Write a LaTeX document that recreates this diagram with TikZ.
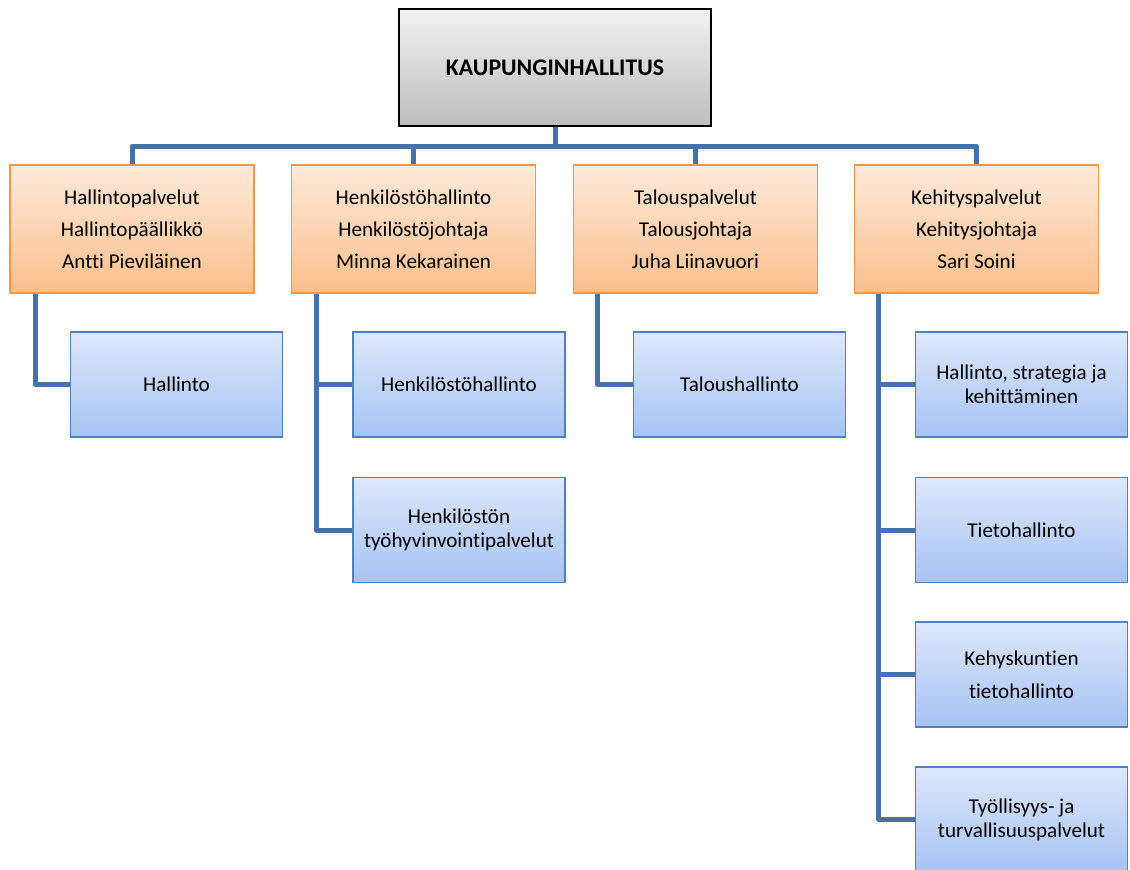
\documentclass[tikz,border=0pt]{standalone}
\usepackage{fontspec}
\setmainfont{Carlito}[Ligatures=NoCommon]
\definecolor{connc}{HTML}{4672AB}
\definecolor{blueline}{HTML}{4F81BD}
\definecolor{bluetop}{HTML}{DDE7FA}
\definecolor{bluebot}{HTML}{A6C3F3}
\definecolor{orangeline}{HTML}{F79646}
\definecolor{orangetop}{HTML}{FDEADA}
\definecolor{orangebot}{HTML}{FABF8C}
\definecolor{graytop}{HTML}{F2F2F2}
\definecolor{graybot}{HTML}{BDBDBD}
\begin{document}
\begin{tikzpicture}[x=1pt,y=-1pt,
  box/.style={rectangle, inner sep=0pt, align=center, line width=1.8pt, font=\fontsize{21.1}{32}\selectfont},
  topbox/.style={box, draw=black, top color=graytop, bottom color=graybot, minimum width=312pt, minimum height=117pt, font=\fontsize{23.8}{32}\selectfont\bfseries},
  obox/.style={box, draw=orangeline, top color=orangetop, bottom color=orangebot, minimum width=244pt, minimum height=128pt},
  bbox/.style={box, draw=blueline, top color=bluetop, bottom color=bluebot, minimum width=212pt, minimum height=105pt},
  tight/.style={font=\fontsize{21.1}{24}\selectfont},
  conn/.style={draw=connc, line width=5pt, line join=round}]
\clip (0,0) rectangle (1130,870);
\fill[white] (0,0) rectangle (1130,870);
\coordinate (bus) at (555,146);
\node[topbox] (top) at (555,67.5) {KAUPUNGINHALLITUS};
\node[obox] (o1) at (132,229) {Hallintopalvelut\\Hallintopäällikkö\\Antti Pieviläinen};
\node[obox] (o2) at (413.5,229) {Henkilöstöhallinto\\Henkilöstöjohtaja\\Minna Kekarainen};
\node[obox] (o3) at (695.5,229) {Talouspalvelut\\Talousjohtaja\\Juha Liinavuori};
\node[obox] (o4) at (976.5,229) {Kehityspalvelut\\Kehitysjohtaja\\Sari Soini};
\node[bbox] (b1) at (176.5,384.5) {Hallinto};
\node[bbox] (b2a) at (459,384.5) {Henkilöstöhallinto};
\node[bbox, tight] (b2b) at (459,530) {Henkilöstön\\työhyvinvointipalvelut};
\node[bbox] (b3) at (739.5,384.5) {Taloushallinto};
\node[bbox, tight] (b4a) at (1021.5,384.5) {Hallinto, strategia ja\\kehittäminen};
\node[bbox] (b4b) at (1021.5,530) {Tietohallinto};
\node[bbox, font=\fontsize{21.1}{33}\selectfont] (b4c) at (1021.5,674.5) {Kehyskuntien\\tietohallinto};
\node[bbox, tight] (b4d) at (1021.5,819.5) {Työllisyys- ja\\turvallisuuspalvelut};
\draw[conn] (top.south) -- (top.south |- bus);
\draw[conn] (o1.north) |- (bus) -| (o4.north);
\draw[conn] (o2.north) -- (o2.north |- bus);
\draw[conn] (o3.north) -- (o3.north |- bus);
\draw[conn] ([xshift=26pt]o1.south west) |- (b1.west);
\draw[conn] ([xshift=26pt]o2.south west) |- (b2a.west);
\draw[conn] ([xshift=26pt]o2.south west) |- (b2b.west);
\draw[conn] ([xshift=25pt]o3.south west) |- (b3.west);
\draw[conn] ([xshift=25pt]o4.south west) |- (b4a.west);
\draw[conn] ([xshift=25pt]o4.south west) |- (b4b.west);
\draw[conn] ([xshift=25pt]o4.south west) |- (b4c.west);
\draw[conn] ([xshift=25pt]o4.south west) |- (b4d.west);
\end{tikzpicture}
\end{document}
